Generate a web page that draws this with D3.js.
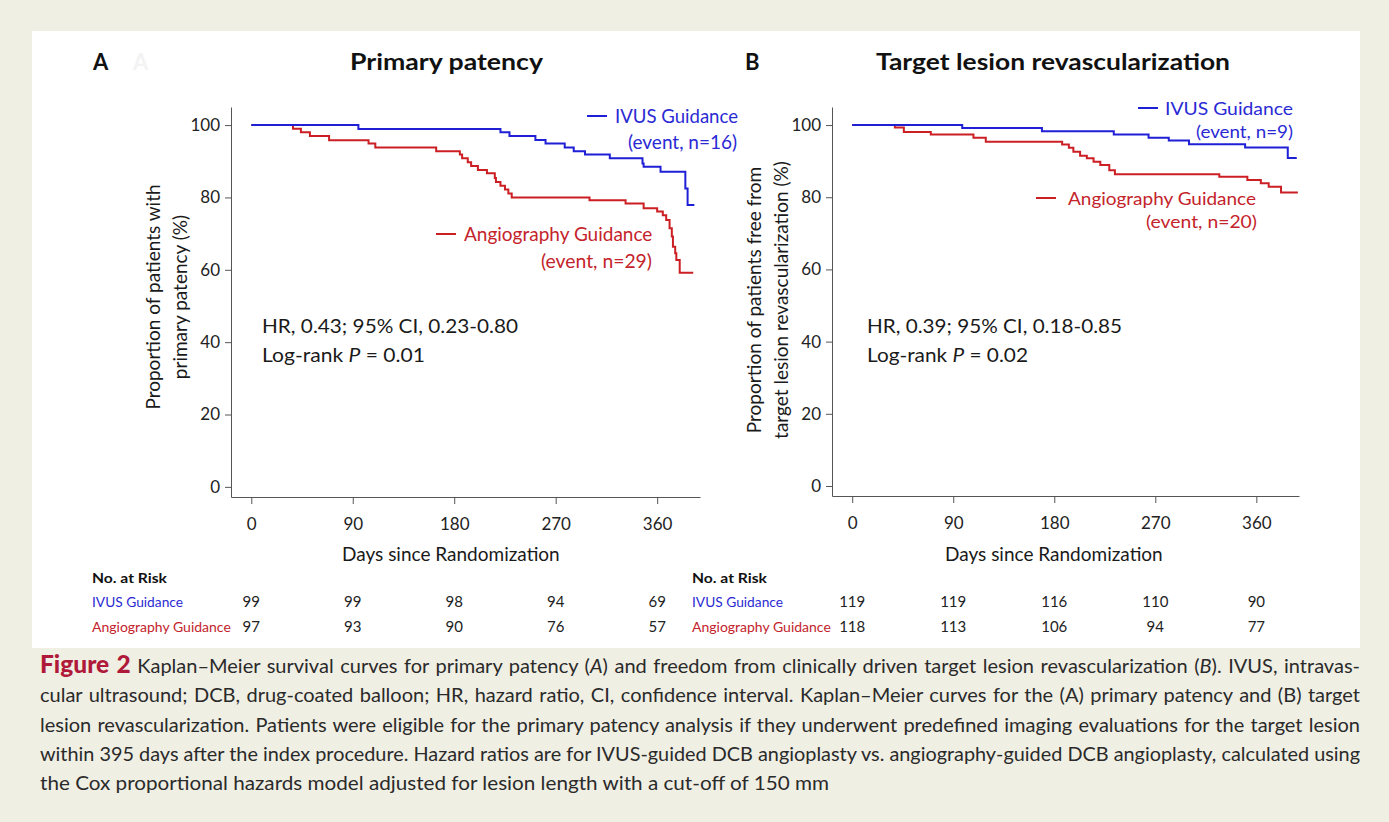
<!DOCTYPE html>
<html><head><meta charset="utf-8">
<script src="https://cdn.jsdelivr.net/npm/d3@7"></script>
<style>body{margin:0;background:#f0efe4;} svg{display:block}</style>
</head><body>
<svg id="c" width="1389" height="822"></svg>
<script>
// ---------- DATA ----------
const dayTicks = [0, 90, 180, 270, 360];
const pctTicks = [0, 20, 40, 60, 80, 100];

// Panel A: primary patency (day, % event-free)
const ivusA = [[0,100],[95,98.9],[221,98.0],[229,97.0],[252,95.9],[261,94.9],[278,93.8],[286,92.8],[296,91.9],[318,90.8],[347,89.4],[348,88.5],[363,87.1],[385,82.5],[387,77.9],[393,77.9]];
const angioA = [[0,100],[37,99.0],[44,98.0],[52,97.0],[69,95.8],[104,94.9],[110,93.8],[164,92.8],[185,91.9],[187,90.8],[192,89.7],[195,88.7],[201,87.6],[209,86.7],[216,85.4],[217,84.3],[221,83.2],[225,82.2],[228,81.1],[231,80.0],[300,79.2],[332,78.3],[348,77.0],[360,76.1],[365,75.1],[368,73.8],[371,71.5],[373,69.2],[374,66.4],[376,64.6],[377,62.7],[380,59.2],[392,59.2]];

// Panel B: freedom from TLR
const ivusB = [[0,100],[98,99.2],[169,98.3],[233,97.4],[264,96.5],[282,95.7],[300,94.7],[350,93.8],[388,90.9],[396,90.9]];
const angioB = [[0,100],[38,99.3],[46,98.1],[70,97.4],[108,96.5],[119,95.4],[187,94.6],[193,93.7],[197,92.6],[203,91.5],[209,90.8],[215,89.8],[221,88.9],[229,87.5],[234,86.4],[327,85.7],[352,84.8],[364,83.9],[371,82.9],[382,81.3],[397,81.3]];

const riskIvusA = [99, 99, 98, 94, 69];
const riskAngioA = [97, 93, 90, 76, 57];
const riskIvusB = [119, 119, 116, 110, 90];
const riskAngioB = [118, 113, 106, 94, 77];

const seriesNames = ["IVUS Guidance", "Angiography Guidance"];
const eventsA = [16, 29];
const eventsB = [9, 20];

// ---------- STYLE ----------
const BLUE = "#1f1fd6", RED = "#cc1f24";
const TBLUE = "#2a2ad4", TRED = "#c4232b";
const FONT = "Lato, 'Open Sans', sans-serif";
const svg = d3.select("#c");

svg.append("rect").attr("x",0).attr("y",0).attr("width",1389).attr("height",822).attr("fill","#f0efe4");
svg.append("rect").attr("x",32).attr("y",31).attr("width",1328).attr("height",617).attr("fill","#ffffff");

function fit(sel, w){
  const n = sel.node();
  const cw = n.getComputedTextLength();
  if (Math.abs(cw - w) / w > 0.015) sel.attr("textLength", w).attr("lengthAdjust", "spacingAndGlyphs");
  return sel;
}
function txt(x, y, s, o = {}){
  const t = svg.append("text").attr("x", x).attr("y", y).text(s)
    .attr("font-family", o.family || FONT).attr("font-size", o.size || 19)
    .attr("fill", o.fill || "#1a1a1a").attr("font-weight", o.weight || "normal");
  if (o.w) fit(t, o.w);
  return t;
}

function panel(cfg){
  const x = d3.scaleLinear().domain(cfg.xDomain).range([cfg.x0, cfg.x1]);
  const y = d3.scaleLinear().domain(cfg.yDomain).range([cfg.yBot, cfg.yTop]);
  const g = svg.append("g");
  const ax = g.append("g").attr("transform", `translate(0,${cfg.yBot})`)
    .call(d3.axisBottom(x).tickValues(dayTicks).tickSize(7).tickSizeOuter(0).tickPadding(14));
  const ay = g.append("g").attr("transform", `translate(${cfg.x0},0)`)
    .call(d3.axisLeft(y).tickValues(pctTicks).tickSize(6).tickSizeOuter(0).tickPadding(5));
  [ax, ay].forEach(a => {
    a.selectAll("path,line").attr("stroke", "#555").attr("stroke-width", 1);
    a.selectAll("text").attr("font-family", FONT).attr("font-size", 17).attr("fill", "#222");
  });
  const line = d3.line().x(d => x(d[0])).y(d => y(d[1])).curve(d3.curveStepAfter);
  g.append("path").datum(cfg.angio).attr("d", line).attr("fill","none").attr("stroke", RED).attr("stroke-width", 2);
  g.append("path").datum(cfg.ivus).attr("d", line).attr("fill","none").attr("stroke", BLUE).attr("stroke-width", 2);

  // titles
  txt(cfg.letterX, 70, cfg.letter, {weight: "bold", size: 22, fill: "#111"});
  txt(cfg.titleX, 70, cfg.title, {weight: "bold", size: 23, fill: "#111", w: cfg.titleW});
  txt(cfg.xtX, 561, "Days since Randomization", {size: 19, w: 217});

  // y label
  const yl = svg.append("g").attr("transform", `translate(${cfg.ylX},${cfg.ylY}) rotate(-90)`);
  cfg.ylab.forEach((s, i) => {
    yl.append("text").attr("x", 0).attr("y", i * 27).attr("text-anchor", "middle")
      .attr("font-family", FONT).attr("font-size", 19).attr("fill", "#1a1a1a").text(s);
  });

  // legends
  const L = cfg.leg;
  g.append("line").attr("x1", L.bx).attr("x2", L.bx + 20).attr("y1", L.by).attr("y2", L.by).attr("stroke", BLUE).attr("stroke-width", 2);
  txt(L.bt, L.by + 7, seriesNames[0], {fill: TBLUE, w: L.bw, size: L.fs || 19});
  txt(L.br - L.bw2, L.by + 7 + L.bgap, `(event, n=${cfg.events[0]})`, {fill: TBLUE, w: L.bw2, size: L.fs || 19});
  g.append("line").attr("x1", L.rx).attr("x2", L.rx + 20).attr("y1", L.ry).attr("y2", L.ry).attr("stroke", RED).attr("stroke-width", 2);
  txt(L.rt, L.ry + 7, seriesNames[1], {fill: TRED, w: L.rw, size: L.fs || 19});
  txt(L.rr - L.rw2, L.ry + 7 + L.rgap, `(event, n=${cfg.events[1]})`, {fill: TRED, w: L.rw2, size: L.fs || 19});

  // stats
  txt(cfg.statX, 333, cfg.hr, {size: 20, w: cfg.hrW});
  const lr = txt(cfg.statX, 362, "", {size: 20});
  lr.append("tspan").text("Log-rank ");
  lr.append("tspan").attr("font-style", "italic").text("P");
  lr.append("tspan").text(" = " + cfg.p);
  fit(lr, cfg.pW);

  // risk table
  txt(cfg.rtX, 583, "No. at Risk", {weight: "bold", size: 14, fill: "#111", w: 75});
  txt(cfg.rtX, 607, seriesNames[0], {size: 14, fill: TBLUE, w: 91});
  txt(cfg.rtX, 632, seriesNames[1], {size: 14, fill: TRED, w: 139});
  [[cfg.riskI, 607], [cfg.riskA, 632]].forEach(([arr, yy]) => {
    g.selectAll(null).data(arr).enter().append("text")
      .attr("x", (d, i) => x(dayTicks[i])).attr("y", yy).attr("text-anchor", "middle")
      .attr("font-family", FONT).attr("font-size", 15).attr("fill", "#222").text(d => d);
  });
}

panel({
  x0: 231, x1: 700, yTop: 107, yBot: 497, xDomain: [-18, 398], yDomain: [-2.8, 105],
  ivus: ivusA, angio: angioA, events: eventsA,
  letter: "A", letterX: 93, title: "Primary patency", titleX: 350, titleW: 193, xtX: 342,
  ylab: ["Proportion of patients with", "primary patency (%)"], ylX: 160, ylY: 297,
  leg: {bx: 587, by: 116, bt: 615, bw: 123, br: 737, bw2: 109, bgap: 26, rx: 436, ry: 234, rt: 464, rw: 188, rr: 652, rw2: 111, rgap: 27},
  statX: 262, hr: "HR, 0.43; 95% CI, 0.23-0.80", hrW: 256, p: "0.01", pW: 163,
  rtX: 92, riskI: riskIvusA, riskA: riskAngioA
});
panel({
  x0: 832, x1: 1299, yTop: 107, yBot: 496, xDomain: [-18, 398], yDomain: [-2.77, 105],
  ivus: ivusB, angio: angioB, events: eventsB,
  letter: "B", letterX: 745, title: "Target lesion revascularization", titleX: 876, titleW: 354, xtX: 945,
  ylab: ["Proportion of patients free from", "target lesion revascularization (%)"], ylX: 761, ylY: 300,
  leg: {fs: 18, bx: 1138, by: 108, bt: 1165, bw: 128, br: 1293, bw2: 97, bgap: 23, rx: 1036, ry: 198, rt: 1068, rw: 188, rr: 1257, rw2: 111, rgap: 23},
  statX: 867, hr: "HR, 0.39; 95% CI, 0.18-0.85", hrW: 255, p: "0.02", pW: 161,
  rtX: 692, riskI: riskIvusB, riskA: riskAngioB
});
// faint ghost letter
txt(133, 70, "A", {weight: "bold", size: 22, fill: "#f3f3f3"});

// ---------- CAPTION ----------
const capLines = [
  [["Figure 2", "b"], [" Kaplan–Meier survival curves for primary patency ("], ["A", "i"], [") and freedom from clinically driven target lesion revascularization ("], ["B", "i"], ["). IVUS, intravas-"]],
  [["cular ultrasound; DCB, drug-coated balloon; HR, hazard ratio, CI, confidence interval. Kaplan–Meier curves for the (A) primary patency and (B) target"]],
  [["lesion revascularization. Patients were eligible for the primary patency analysis if they underwent predefined imaging evaluations for the target lesion"]],
  [["within 395 days after the index procedure. Hazard ratios are for IVUS-guided DCB angioplasty vs. angiography-guided DCB angioplasty, calculated using"]],
  [["the Cox proportional hazards model adjusted for lesion length with a cut-off of 150 mm"]]
];
capLines.forEach((parts, i) => {
  const t = svg.append("text").attr("x", 40).attr("y", 673 + i * 29.3)
    .attr("font-family", FONT).attr("font-size", 20).attr("fill", "#2a2a2a");
  parts.forEach(([s, st]) => {
    const sp = t.append("tspan").text(s);
    if (st === "b") sp.attr("font-weight", 900).attr("fill", "#b01a3a").attr("font-size", 24.5);
    if (st === "i") sp.attr("font-style", "italic");
  });
  if (i < capLines.length - 1) {
    const target = 1320;
    const w = t.node().getComputedTextLength();
    const full = parts.map(p => p[0]).join("");
    const spaces = (full.match(/ /g) || []).length;
    if (w < target) t.attr("word-spacing", (target - w) / spaces);
    else t.attr("textLength", target).attr("lengthAdjust", "spacingAndGlyphs");
  } else {
    fit(t, 789);
  }
});
</script>
</body></html>
